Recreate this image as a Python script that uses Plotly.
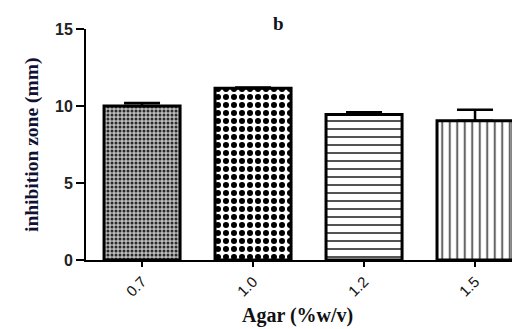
import plotly.graph_objects as go

categories = ["0.7", "1.0", "1.2", "1.5"]
means = [10.0, 11.15, 9.45, 9.05]
errors = [0.2, 0.05, 0.15, 0.7]
y_ticks = [0, 5, 10, 15]

patterns = [
    dict(shape=".", size=4, solidity=0.45, fgcolor="#2a2a2a", bgcolor="#bdbdbd", fillmode="replace"),
    dict(shape=".", size=8, solidity=0.45, fgcolor="#000000", bgcolor="white", fillmode="replace"),
    dict(shape="-", size=8, solidity=0.25, fgcolor="#555555", bgcolor="white", fillmode="replace"),
    dict(shape="|", size=7.5, solidity=0.28, fgcolor="#666666", bgcolor="white", fillmode="replace"),
]

fig = go.Figure()
for i, c in enumerate(categories):
    fig.add_trace(go.Bar(
        x=[c], y=[means[i]],
        width=0.685,
        marker=dict(color="white", pattern=patterns[i],
                    line=dict(color="black", width=3)),
        error_y=dict(type="data", array=[errors[i]], arrayminus=[0], symmetric=False,
                     color="black", thickness=2.5, width=18),
        showlegend=False,
    ))

fig.update_layout(
    width=521, height=329,
    margin=dict(l=86, r=9, t=29, b=69),
    paper_bgcolor="white", plot_bgcolor="white",
    barmode="overlay",
    xaxis=dict(
        type="category", categoryorder="array", categoryarray=categories,
        range=[-0.505, 3.333], automargin=False,
        showline=True, linecolor="black", linewidth=2,
        ticks="outside", ticklen=5, tickwidth=2, tickcolor="black",
        tickangle=-45,
        tickfont=dict(family="Liberation Sans", size=15, color="#111111"),
        showgrid=False, zeroline=False,
    ),
    yaxis=dict(
        range=[0, 15], tickvals=y_ticks, automargin=False,
        showline=True, linecolor="black", linewidth=2,
        ticks="outside", ticklen=8, tickwidth=2, tickcolor="black",
        tickfont=dict(family="Liberation Sans", size=16, color="#222222", weight="bold"),
        showgrid=False, zeroline=False,
    ),
    annotations=[
        dict(text="<b>b</b>", x=278, y=23, showarrow=False,
             font=dict(family="Liberation Serif", size=19, color="#111122")),
        dict(text="<b>Agar (%w/v)</b>", x=297, y=315, showarrow=False,
             font=dict(family="Liberation Serif", size=20, color="#111111")),
        dict(text="<b>inhibition zone (mm)</b>", x=32, y=145, showarrow=False, textangle=-90,
             font=dict(family="Liberation Serif", size=19.5, color="#111133")),
    ],
)

# convert pixel positions of annotations to paper coordinates
L, R, T, B, W, H = 86, 9, 29, 69, 521, 329
pw, ph = W - L - R, H - T - B
for a in fig.layout.annotations:
    px, py = a.x, a.y
    a.x = (px - L) / pw
    a.y = (H - B - py) / ph
    a.xref = "paper"
    a.yref = "paper"
    a.xanchor = "center"
    a.yanchor = "middle"

fig.write_html("out.html", config={"displayModeBar": False},
               post_script="document.body.style.margin='0';document.body.style.overflow='hidden';")
